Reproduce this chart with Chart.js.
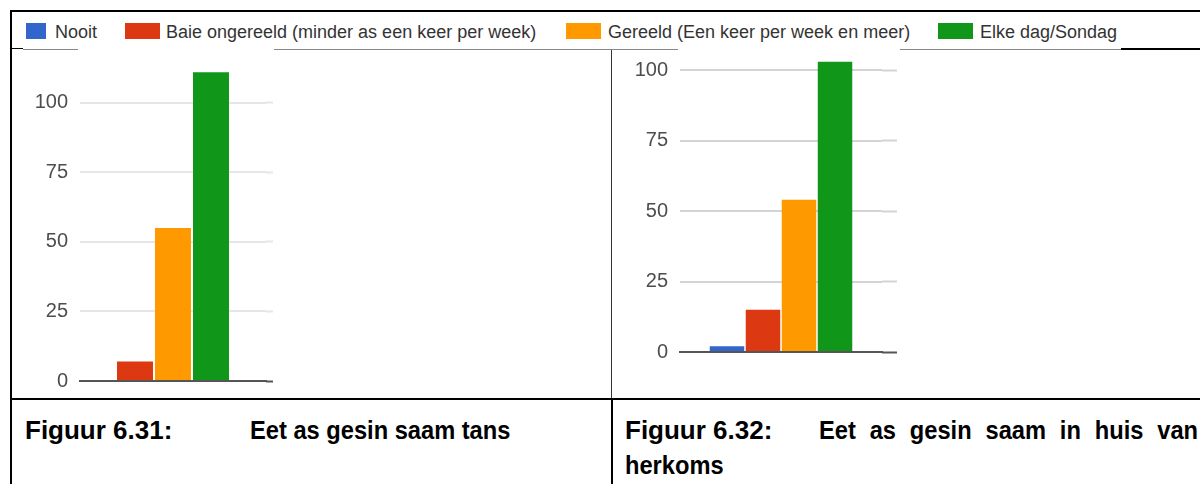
<!DOCTYPE html>
<html>
<head>
<meta charset="utf-8">
<script src="https://cdn.jsdelivr.net/npm/chart.js@4/dist/chart.umd.min.js"></script>
<style>
  html, body { margin: 0; padding: 0; background: #fff; }
  #page { position: relative; width: 1200px; height: 484px; overflow: hidden; background: #fff; font-family: "Liberation Sans", Arial, sans-serif; }
  .rule { position: absolute; background: #000; }
  .legend-item { position: absolute; top: 22px; height: 20px; line-height: 20px; font-size: 18px; color: #333; white-space: nowrap; }
  .legend-box { position: absolute; top: 23px; height: 16px; }
  .chart-box { position: absolute; top: 50px; height: 348px; }
  .caption { position: absolute; font-weight: bold; font-size: 26px; line-height: 30px; color: #000; white-space: nowrap; transform-origin: 0 0; }
  .narrow { transform: scaleX(0.91); }
</style>
</head>
<body>
<div id="page">
  <!-- table borders -->
  <div class="rule" style="left:10px;top:10px;width:1190px;height:2px"></div>
  <div class="rule" style="left:10px;top:10px;width:2px;height:474px"></div>
  <div class="rule" style="left:10px;top:398px;width:1190px;height:2px"></div>
  <div class="rule" style="left:611px;top:50px;width:1px;height:348px;background:#333"></div>
  <div class="rule" style="left:611px;top:398px;width:2px;height:86px"></div>
  <!-- bottom edge of the legend strip -->
  <div class="rule" style="left:10px;top:48px;width:13px;height:1px"></div>
  <div class="rule" style="left:23px;top:49px;width:55px;height:1px;background:#888"></div>
  <div class="rule" style="left:274px;top:49px;width:404px;height:1px;background:#888"></div>
  <div class="rule" style="left:900px;top:49px;width:221px;height:1px;background:#888"></div>
  <div class="rule" style="left:1121px;top:48px;width:79px;height:2px"></div>

  <div id="legend"></div>

  <div class="chart-box" style="left:12px;width:268px"><canvas id="tansChart" width="268" height="348"></canvas></div>
  <div class="chart-box" style="left:613px;width:292px"><canvas id="herkomsChart" width="292" height="348"></canvas></div>

  <div class="caption" style="left:25px;top:415px">Figuur 6.31:</div>
  <div class="caption narrow" style="left:250px;top:415px">Eet as gesin saam tans</div>
  <div class="caption" style="left:625px;top:415px">Figuur 6.32:</div>
  <div class="caption narrow" style="left:819px;top:415px;word-spacing:8px">Eet as gesin saam in huis van</div>
  <div class="caption narrow" style="left:625px;top:450px">herkoms</div>
</div>

<script>
// answer categories shared by both charts
const seriesLabels = [
  "Nooit",
  "Baie ongereeld (minder as een keer per week)",
  "Gereeld (Een keer per week en meer)",
  "Elke dag/Sondag"
];
const seriesColors = ["#3366cc", "#dc3912", "#ff9900", "#109618"];

// Figuur 6.31 - no "Nooit" answers, so only three series are shown
const tansSeries = [1, 2, 3];
const tansValues = [7, 55, 111];

// Figuur 6.32
const herkomsSeries = [0, 1, 2, 3];
const herkomsValues = [2, 15, 54, 103];

const yStep = 25;

// legend layout (box x, box width, text x)
const legendBoxX = [26, 125, 566, 938];
const legendBoxW = [20, 35, 35, 35];
const legendTextX = [55, 166, 608, 980];

Chart.defaults.font.family = "'Liberation Sans', Arial, sans-serif";

function buildLegend() {
  const legend = document.getElementById("legend");
  seriesLabels.forEach((label, i) => {
    const box = document.createElement("div");
    box.className = "legend-box";
    box.style.left = legendBoxX[i] + "px";
    box.style.width = legendBoxW[i] + "px";
    box.style.background = seriesColors[i];
    legend.appendChild(box);

    const text = document.createElement("div");
    text.className = "legend-item";
    text.style.left = legendTextX[i] + "px";
    text.textContent = label;
    legend.appendChild(text);
  });
}

function noPadding(scale) {
  scale.paddingTop = 0;
  scale.paddingBottom = 0;
}

function makeChart(id, series, values, opts) {
  const ctx = document.getElementById(id).getContext("2d");
  return new Chart(ctx, {
    type: "bar",
    data: {
      labels: [""],
      datasets: series.map((s, i) => ({
        label: seriesLabels[s],
        data: [values[i]],
        backgroundColor: seriesColors[s],
        borderWidth: 0,
        categoryPercentage: opts.categoryPercentage,
        barPercentage: opts.barPercentage
      }))
    },
    options: {
      responsive: false,
      animation: false,
      layout: { padding: { top: 0, right: opts.padRight, bottom: opts.padBottom, left: 0 } },
      plugins: { legend: { display: false }, tooltip: { enabled: false } },
      scales: {
        x: {
          grid: { display: false },
          ticks: { display: false },
          border: { display: true, color: "#555", width: 2 },
          afterFit: (scale) => { scale.height = 0; scale.paddingLeft = 0; scale.paddingRight = 0; }
        },
        y: {
          min: 0,
          max: opts.yMax,
          border: { display: false },
          grid: { color: opts.gridColor, lineWidth: 2, drawTicks: false },
          ticks: {
            stepSize: yStep,
            includeBounds: false,
            padding: 12,
            color: "#4d4d4d",
            font: { size: 20 }
          },
          afterFit: (scale) => { scale.width = opts.axisWidth; noPadding(scale); }
        },
        // gridlines run a little past the bars on the right
        yRight: {
          position: "right",
          min: 0,
          max: opts.yMax,
          border: { display: false },
          grid: {
            drawOnChartArea: false,
            drawTicks: true,
            tickLength: opts.gridTail,
            tickColor: (c) => (c.tick && c.tick.value === 0 ? "#555" : opts.gridColor),
            tickWidth: 2
          },
          ticks: { display: false, stepSize: yStep, includeBounds: false },
          afterFit: (scale) => { scale.width = opts.gridTail; noPadding(scale); }
        }
      }
    }
  });
}

buildLegend();

makeChart("tansChart", tansSeries, tansValues, {
  yMax: 119,
  axisWidth: 68,
  gridTail: 7,
  padRight: 7,
  padBottom: 17,
  gridColor: "#e6e6e6",
  categoryPercentage: 0.613,
  barPercentage: 0.947
});

makeChart("herkomsChart", herkomsSeries, herkomsValues, {
  yMax: 107.2,
  axisWidth: 67,
  gridTail: 15,
  padRight: 8,
  padBottom: 46,
  gridColor: "#d4d4d4",
  categoryPercentage: 0.713,
  barPercentage: 0.958
});
</script>
</body>
</html>
